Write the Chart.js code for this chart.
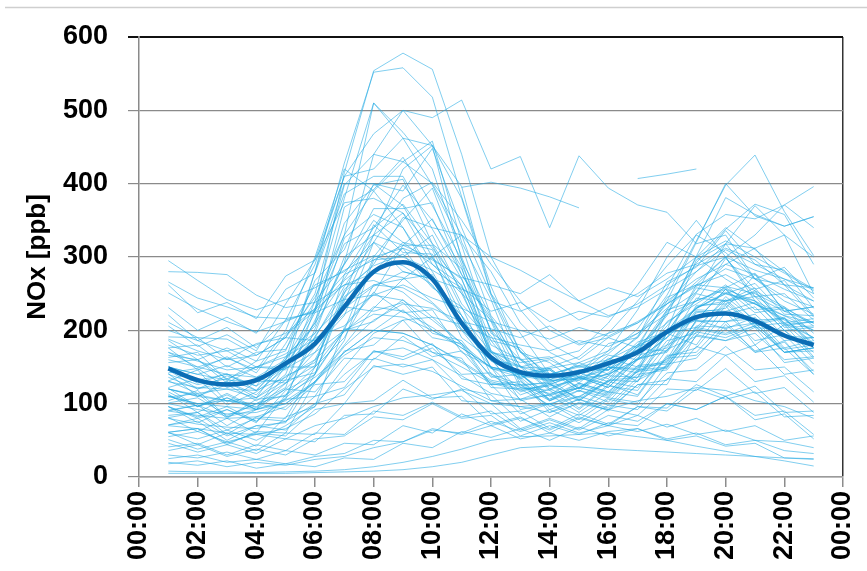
<!DOCTYPE html>
<html>
<head>
<meta charset="utf-8">
<script src="https://cdn.jsdelivr.net/npm/chart.js@4/dist/chart.umd.min.js"></script>
<style>
  html, body { margin: 0; padding: 0; background: #ffffff; }
  #wrap { width: 867px; height: 571px; position: relative; }
</style>
</head>
<body>
<div id="wrap"><canvas id="c" width="867" height="571"></canvas></div>
<script>
// Hour of day for each hourly value (01:00 .. 23:00)
const hours = [1,2,3,4,5,6,7,8,9,10,11,12,13,14,15,16,17,18,19,20,21,22,23];

// Axis ticks
const yTicks = [0, 100, 200, 300, 400, 500, 600];
const xTickHours = [0, 2, 4, 6, 8, 10, 12, 14, 16, 18, 20, 22, 24];

// Average daily NOx profile [ppb]
const meanProfile = [148,132,126,132,155,182,232,280,293,270,210,163,143,138,143,155,170,198,218,223,213,193,180];

// Individual daily NOx profiles [ppb]; null = missing hour
// days with a marked morning rush-hour peak
const day01 = [150,128,141,118,160,228,415,554,578,556,440,300,228,182,160,190,176,245,262,300,246,250,214];
const day02 = [122,134,98,116,148,280,428,552,558,518,382,260,170,156,128,162,150,212,236,262,228,232,186];
const day03 = [186,160,176,158,214,290,410,468,500,490,514,420,437,340,438,394,371,361,318,330,270,286,244];
const day04 = [104,118,82,100,122,230,330,510,462,452,296,218,150,148,120,150,142,226,252,318,270,262,218];
const day05 = [146,120,138,124,182,250,398,440,500,452,396,250,196,140,152,146,184,198,250,240,258,208,212];
const day06 = [91,98,70,92,106,202,292,440,430,458,320,242,140,134,104,132,136,196,214,256,210,218,176];
const day07 = [206,178,194,172,236,296,410,420,462,398,316,196,172,136,146,146,180,196,258,250,264,222,220];
const day08 = [113,88,108,92,152,210,368,392,436,370,296,172,142,104,118,102,146,160,226,222,232,192,190];
const day09 = [163,170,132,158,172,268,310,400,390,448,340,248,160,164,136,166,160,228,240,298,256,268,220];
const day10 = [81,62,80,60,112,150,276,340,398,350,286,160,134,92,106,94,132,152,214,212,216,170,172];
const day11 = [231,200,218,196,256,278,386,410,410,338,270,180,160,126,142,130,178,200,296,318,312,262,258];
const day12 = [131,146,102,130,132,214,290,366,366,374,276,216,150,160,140,182,190,266,286,336,290,282,230];
const day13 = [176,146,164,142,194,226,346,398,406,318,254,160,152,120,138,126,162,170,224,230,276,226,232];
const day14 = [96,74,92,74,118,140,252,290,354,340,330,220,172,120,136,122,160,180,244,240,246,204,206];
const day15 = [71,76,50,70,74,140,200,300,350,394,290,200,122,118,92,124,118,174,192,240,204,200,162];
const day16 = [262,224,238,216,274,296,374,380,360,290,250,170,162,128,146,134,174,172,234,236,254,206,212];
const day17 = [141,110,130,108,164,206,326,358,340,270,220,150,140,110,128,116,152,156,214,202,218,176,186];
const day18 = [109,114,80,106,110,192,250,344,306,304,206,164,104,112,88,116,110,164,176,224,186,194,154];
const day19 = [61,44,60,42,82,96,204,250,316,298,270,170,132,88,106,90,126,126,194,186,204,156,162];
const day20 = [191,190,160,182,190,262,280,320,280,270,190,160,116,128,106,132,130,180,200,246,214,216,180];
const day21 = [121,96,114,94,138,156,246,278,312,260,220,140,126,96,110,98,136,150,206,204,210,174,180];
const day22 = [84,88,58,82,80,150,190,262,270,276,200,150,92,100,78,106,98,154,162,208,172,184,144];
const day23 = [136,120,130,112,152,196,300,330,360,312,260,172,150,118,136,122,160,172,228,226,238,200,204];
const day24 = [176,180,150,170,174,240,290,350,320,310,230,186,136,146,122,150,148,200,214,256,224,230,196];
const day25 = [96,82,96,76,108,140,244,280,320,290,262,166,140,106,122,112,144,158,212,212,222,186,190];
const day26 = [156,160,128,150,150,224,270,330,316,316,236,192,134,148,120,150,146,196,204,242,208,216,182];
const day27 = [116,96,112,92,128,152,256,288,304,258,232,148,136,104,122,110,144,148,204,196,210,170,176];
const day28 = [61,66,44,62,60,130,186,296,316,352,276,212,126,128,94,126,112,166,170,212,170,186,140];
const day29 = [221,186,204,176,214,226,318,340,372,318,284,186,176,132,156,140,178,190,262,258,278,226,232];
const day30 = [142,148,122,134,128,178,220,320,300,330,250,214,140,146,116,150,130,196,180,234,180,208,164];
const day31 = [170,150,162,146,200,300,420,390,340,280,210,160,150,140,150,146,170,196,230,252,236,220,210];
const day32 = [130,122,120,118,160,280,400,400,370,300,220,170,140,132,134,140,160,190,230,250,240,210,190];
const day33 = [110,100,104,96,120,160,240,330,420,452,380,250,170,140,136,146,170,200,230,260,250,230,210];
const day34 = [150,140,132,130,150,190,260,320,380,402,350,290,240,200,180,190,210,240,270,290,276,256,240];
const day35 = [90,84,80,82,96,130,180,230,270,300,330,280,210,170,150,160,180,210,240,256,240,220,200];
const day36 = [120,110,104,108,140,240,380,510,470,420,300,200,160,140,132,140,160,190,230,250,236,216,200];
// days staying high through midday
const day37 = [188,172,160,166,190,245,330,390,430,400,330,300,282,260,240,220,232,256,280,310,290,270,258];
const day38 = [150,140,152,136,160,210,268,300,312,296,272,262,250,276,240,258,246,270,300,322,300,278,254];
const day39 = [120,110,126,104,128,170,230,260,280,270,256,240,226,242,214,232,250,278,290,312,296,262,240];
const day40 = [200,186,172,180,196,230,276,296,300,282,258,226,238,212,226,218,236,262,288,300,282,270,250];
const day41 = [90,98,82,92,100,128,178,214,236,230,212,202,190,206,182,196,210,236,262,276,254,232,206];
const day42 = [170,158,146,150,164,188,222,248,262,244,230,212,200,188,204,192,212,236,260,284,270,246,232];
const day43 = [60,52,64,50,70,96,150,196,214,218,208,190,180,172,186,178,196,222,240,258,236,214,190];
// days with a strong evening build-up
const day44 = [180,166,172,150,168,196,236,262,258,236,200,170,156,162,172,210,262,320,300,270,246,226,210];
const day45 = [140,126,134,118,136,160,198,232,226,204,176,150,140,150,164,196,240,288,330,306,270,240,222];
const day46 = [100,92,86,88,100,130,170,200,196,180,158,132,124,130,140,160,190,236,280,318,370,330,300];
const day47 = [160,150,140,136,148,170,200,222,218,200,176,150,142,148,156,172,196,230,266,300,330,371,396];
const day48 = [120,112,104,100,112,136,170,200,196,180,156,130,120,124,132,150,180,240,320,400,356,342,355];
const day49 = [80,72,68,66,76,100,140,170,176,160,138,114,106,112,122,142,172,220,300,340,310,280,256];
const day50 = [251,229,212,198,212,228,262,278,272,238,202,158,141,133,142,158,192,248,322,398,439,362,302];
const day51 = [266,244,232,218,216,224,242,248,241,214,182,148,141,139,152,168,202,258,331,358,352,371,340];
const day52 = [280,279,276,248,231,238,262,268,252,218,182,138,122,114,121,138,172,228,292,338,372,358,290];
const day53 = [295,268,242,228,242,258,282,302,288,262,208,162,138,131,134,152,174,222,301,381,358,342,355];
const day54 = [110,100,96,92,104,130,166,190,186,170,150,128,118,126,140,172,228,300,350,300,240,200,170];
const day55 = [70,66,60,58,66,86,120,150,154,144,124,104,96,100,110,130,162,206,252,290,312,330,250];
// low-concentration days
const day56 = [8,7,7,6,7,8,10,14,20,28,38,50,55,56,58,60,55,50,42,35,28,22,15];
const day57 = [25,30,20,24,18,28,32,50,48,66,58,70,52,60,50,62,66,52,60,44,50,36,32];
const day58 = [36,44,28,38,30,52,56,82,78,100,80,84,56,70,58,74,70,100,92,110,78,86,52];
const day59 = [51,38,48,36,60,58,100,104,132,108,110,72,82,60,80,70,96,94,126,110,124,88,90];
const day60 = [71,80,56,70,64,100,112,162,150,160,120,112,76,92,74,98,92,134,130,166,130,138,102];
const day61 = [20,16,22,12,18,14,26,24,46,40,62,54,66,50,68,56,66,50,56,42,46,26,24];
const day62 = [96,80,92,76,106,110,172,180,214,170,162,104,106,82,102,92,126,132,178,166,180,140,146];
const day63 = [61,66,46,60,56,92,100,152,140,150,104,100,66,80,66,92,84,120,118,148,114,122,88];
const day64 = [101,108,84,100,92,126,130,172,160,176,140,142,106,120,104,130,122,162,166,202,170,176,140];
const day65 = [46,34,44,32,52,48,84,86,120,106,120,86,90,66,86,72,96,90,120,106,116,82,84];
const day66 = [5,5,5,5,5,6,7,8,10,14,20,30,40,42,41,38,36,34,32,30,28,26,25];
const day67 = [131,114,120,108,132,142,200,212,242,200,180,122,120,98,118,108,140,146,192,186,196,160,164];
const day68 = [81,88,64,80,76,110,122,172,164,182,134,126,86,100,84,108,102,142,146,178,146,150,116];
const day69 = [151,132,140,124,150,150,202,200,228,190,182,126,126,104,126,114,146,150,198,190,206,170,176];
const day70 = [41,46,30,44,36,60,58,90,84,102,82,90,64,78,64,84,76,100,92,110,84,90,58];
const day71 = [111,96,108,92,120,116,162,160,192,164,172,126,130,106,128,116,150,154,202,194,206,170,176];
const day72 = [166,160,134,150,146,190,206,252,224,228,170,150,112,126,108,138,136,186,196,236,206,210,176];
const day73 = [211,190,188,166,190,186,232,226,238,196,186,136,140,112,136,126,166,176,232,240,252,210,216];
const day74 = [18,22,14,20,16,24,28,40,48,64,60,76,62,74,60,70,62,72,58,64,50,48,40];
const day75 = [30,26,34,24,36,30,46,44,70,60,86,70,80,64,82,70,84,68,80,62,70,50,56];
const day76 = [55,62,48,58,52,70,80,96,108,112,118,100,96,88,100,92,104,110,122,118,104,96,80];
// days with only a few valid hours
const day77 = [null,null,null,null,null,null,null,null,null,null,395,402,394,382,367,null,null,null,null,null,null,null,null];
const day78 = [null,null,null,null,null,null,null,null,null,null,null,null,null,null,null,null,407,413,420,null,null,null,null];

const dayProfiles = [day01,day02,day03,day04,day05,day06,day07,day08,day09,day10,day11,day12,day13,
  day14,day15,day16,day17,day18,day19,day20,day21,day22,day23,day24,day25,day26,day27,day28,day29,
  day30,day31,day32,day33,day34,day35,day36,day37,day38,day39,day40,day41,day42,day43,day44,day45,
  day46,day47,day48,day49,day50,day51,day52,day53,day54,day55,day56,day57,day58,day59,day60,day61,
  day62,day63,day64,day65,day66,day67,day68,day69,day70,day71,day72,day73,day74,day75,day76,day77,day78];

const toPoints = vals => hours.map((h, i) => ({ x: h, y: vals[i] }));

const datasets = [{
  data: toPoints(meanProfile),
  borderColor: '#0b6db5',
  borderWidth: 4.5,
  pointRadius: 0,
  cubicInterpolationMode: 'monotone',
  order: 0
}].concat(dayProfiles.map(vals => ({
  data: toPoints(vals),
  borderColor: 'rgba(38,170,228,0.58)',
  borderWidth: 1,
  pointRadius: 0,
  tension: 0,
  spanGaps: false,
  order: 1
})));

// Thin grey rule across the top of the page
const topRule = {
  id: 'topRule',
  beforeDraw(chart) {
    const ctx = chart.ctx;
    ctx.save();
    ctx.strokeStyle = '#cfcfcf';
    ctx.lineWidth = 1.5;
    ctx.beginPath();
    ctx.moveTo(5, 7.5);
    ctx.lineTo(867, 7.5);
    ctx.stroke();
    ctx.restore();
  }
};

const tickFont = { family: 'Liberation Sans', weight: 'bold', size: 27 };

new Chart(document.getElementById('c'), {
  type: 'line',
  data: { datasets },
  plugins: [topRule],
  options: {
    responsive: false,
    animation: false,
    events: [],
    layout: { padding: { left: 0, top: 37, right: 24, bottom: 0 } },
    plugins: { legend: { display: false }, tooltip: { enabled: false } },
    scales: {
      x: {
        type: 'linear',
        min: 0,
        max: 24,
        afterBuildTicks: s => { s.ticks = xTickHours.map(v => ({ value: v })); },
        afterFit: s => { s.height = 94; s.paddingLeft = 0; s.paddingRight = 0; },
        ticks: {
          font: tickFont,
          color: '#000',
          minRotation: 90,
          maxRotation: 90,
          padding: 4,
          callback: v => String(v % 24).padStart(2, '0') + ':00'
        },
        grid: {
          drawOnChartArea: true,
          color: c => (c.tick && c.tick.value === 24) ? '#333333' : 'rgba(0,0,0,0)',
          tickColor: '#8c8c8c',
          tickLength: 10,
          lineWidth: 1.5
        },
        border: { color: '#9a9a9a', width: 1.5 }
      },
      y: {
        min: 0,
        max: 600,
        afterBuildTicks: s => { s.ticks = yTicks.map(v => ({ value: v })); },
        afterFit: s => { s.width = 139; },
        ticks: { font: tickFont, color: '#000', padding: 20 },
        grid: {
          color: c => (c.tick && c.tick.value === 600) ? '#111111' : '#8a8a8a',
          lineWidth: c => (c.tick && c.tick.value === 600) ? 2 : 1.2,
          tickLength: 11
        },
        border: { color: '#8a8a8a', width: 1.5 },
        title: {
          display: true,
          text: 'NOx [ppb]',
          color: '#000',
          font: { family: 'Liberation Sans', weight: 'bold', size: 26 },
          padding: { top: 22, bottom: 0 }
        }
      }
    }
  }
});
</script>
</body>
</html>
